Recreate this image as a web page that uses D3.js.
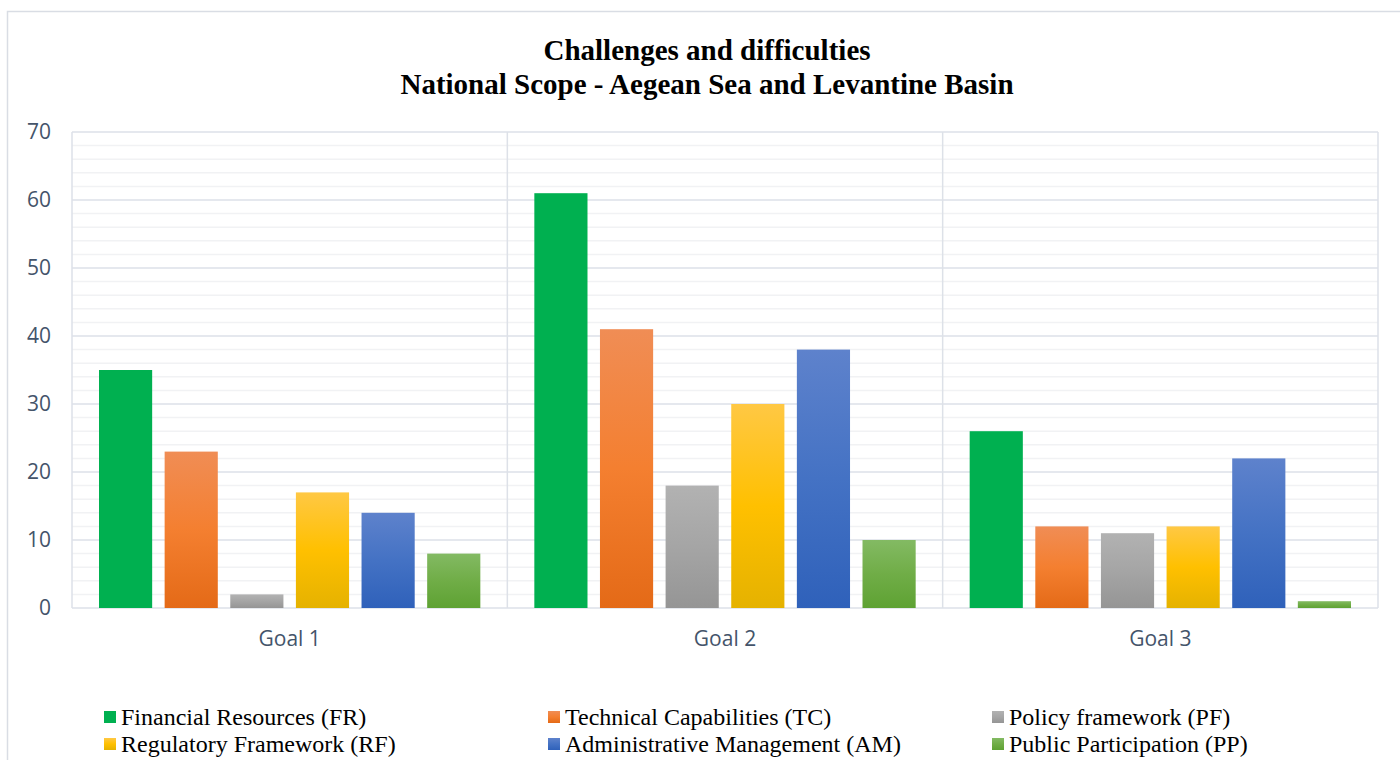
<!DOCTYPE html>
<html><head><meta charset="utf-8">
<script src="https://cdn.jsdelivr.net/npm/d3@7"></script>
<style>body{margin:0;background:#fff}svg{display:block}</style>
</head><body>
<svg id="c" width="1400" height="760"></svg>
<script>
const titleLines = ["Challenges and difficulties", "National Scope - Aegean Sea and Levantine Basin"];
const goals = ["Goal 1", "Goal 2", "Goal 3"];
const seriesNames = ["Financial Resources (FR)", "Technical Capabilities (TC)", "Policy framework (PF)",
  "Regulatory Framework (RF)", "Administrative Management (AM)", "Public Participation (PP)"];
const FR = [35, 61, 26];
const TC = [23, 41, 12];
const PF = [2, 18, 11];
const RF = [17, 30, 12];
const AM = [14, 38, 22];
const PP = [8, 10, 1];
const yTicks = [0, 10, 20, 30, 40, 50, 60, 70];

const seriesValues = [FR, TC, PF, RF, AM, PP];
// gradient stops: top, mid, bottom
const fills = [
  ["#00B050", "#00B050", "#00B050"],
  ["#F08D55", "#F47F30", "#E46A17"],
  ["#B2B2B2", "#A5A5A5", "#959595"],
  ["#FFC844", "#FFC000", "#E5B200"],
  ["#5E82CC", "#4472C4", "#2F61BA"],
  ["#83BA63", "#70AD47", "#5EA233"]
];

const svg = d3.select("#c");
const defs = svg.append("defs");
fills.forEach((f, i) => {
  const g = defs.append("linearGradient").attr("id", "g" + i)
    .attr("x1", 0).attr("y1", 0).attr("x2", 0).attr("y2", 1);
  g.append("stop").attr("offset", "0%").attr("stop-color", f[0]);
  g.append("stop").attr("offset", "50%").attr("stop-color", f[1]);
  g.append("stop").attr("offset", "100%").attr("stop-color", f[2]);
});

// outer frame
svg.append("rect").attr("x", 7.5).attr("y", 11.5).attr("width", 1400).attr("height", 760)
  .attr("fill", "#fff").attr("stroke", "#D9DDE4").attr("stroke-width", 1.5);

const plot = {left: 72, right: 1378, top: 132, bottom: 608};
const y = d3.scaleLinear().domain([0, 70]).range([plot.bottom, plot.top]);
const x0 = d3.scaleBand().domain(goals).range([plot.left, plot.right]).padding(0);
const x1 = d3.scaleBand().domain(d3.range(seriesNames.length))
  .range([27, x0.bandwidth() - 27]).paddingInner(0.19).paddingOuter(0);

// minor gridlines
const minor = d3.range(2, 70, 2).filter(v => v % 10 !== 0);
svg.append("g").selectAll("line").data(minor).join("line")
  .attr("x1", plot.left).attr("x2", plot.right)
  .attr("y1", d => y(d)).attr("y2", d => y(d))
  .attr("stroke", "#F1F2F4").attr("stroke-width", 1.5);
// major gridlines
svg.append("g").selectAll("line").data(yTicks).join("line")
  .attr("x1", plot.left).attr("x2", plot.right)
  .attr("y1", d => y(d)).attr("y2", d => y(d))
  .attr("stroke", "#DDE1E8").attr("stroke-width", 1.5);
// vertical separators
const seps = goals.map(g => x0(g)).concat([plot.right]);
svg.append("g").selectAll("line").data(seps).join("line")
  .attr("x1", d => d).attr("x2", d => d)
  .attr("y1", plot.top).attr("y2", plot.bottom)
  .attr("stroke", "#DDE1E8").attr("stroke-width", 1.5);

// bars
const gg = svg.append("g").selectAll("g").data(goals).join("g")
  .attr("transform", g => `translate(${x0(g)},0)`);
gg.selectAll("rect").data((g, gi) => seriesValues.map((s, si) => ({si, v: s[gi]}))).join("rect")
  .attr("x", d => x1(d.si)).attr("width", x1.bandwidth())
  .attr("y", d => y(d.v)).attr("height", d => y(0) - y(d.v))
  .attr("fill", d => `url(#g${d.si})`);

// y axis labels
const yAxis = d3.axisLeft(y).tickValues(yTicks).tickSize(0).tickPadding(0);
svg.append("g").attr("transform", `translate(51,0)`).call(yAxis)
  .call(g => g.select(".domain").remove())
  .selectAll("text").attr("font-family", "'Open Sans', sans-serif").attr("font-size", 21)
  .attr("fill", "#44546A");

// x axis labels
const xAxis = d3.axisBottom(x0).tickSize(0).tickPadding(0);
svg.append("g").attr("transform", `translate(0,${plot.bottom + 23})`).call(xAxis)
  .call(g => g.select(".domain").remove())
  .selectAll("text").attr("font-family", "'Open Sans', sans-serif").attr("font-size", 21)
  .attr("fill", "#44546A");

// title
svg.append("g").selectAll("text").data(titleLines).join("text")
  .attr("x", 707).attr("y", (d, i) => 60 + i * 34)
  .attr("text-anchor", "middle")
  .attr("font-family", "'Liberation Serif', 'Times New Roman', serif")
  .attr("font-weight", "bold").attr("font-size", 29).attr("fill", "#000")
  .text(d => d);

// legend
const legCols = [104, 548, 992];
const leg = svg.append("g").selectAll("g").data(seriesNames).join("g")
  .attr("transform", (d, i) => `translate(${legCols[i % 3]},${i < 3 ? 711 : 738})`);
leg.append("rect").attr("x", 0).attr("y", 0).attr("width", 12).attr("height", 12)
  .attr("fill", (d, i) => `url(#g${i})`);
leg.append("text").attr("x", 17).attr("y", 14)
  .attr("font-family", "'Liberation Serif', 'Times New Roman', serif")
  .attr("font-size", 24).attr("fill", "#000").text(d => d);
</script>
</body></html>
